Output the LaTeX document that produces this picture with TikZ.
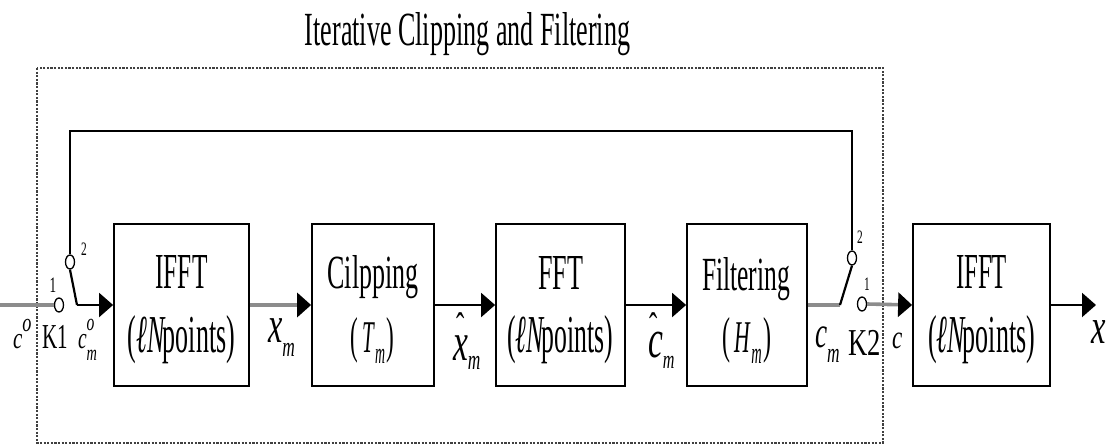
\documentclass[tikz,border=0pt]{standalone}
\usepackage{fontspec}
\setmainfont{Liberation Serif}[ItalicFont={Liberation Serif Italic}]
\usepackage{graphicx}
\usetikzlibrary{arrows.meta,shapes.geometric}
\newcommand\fsz[1]{\fontsize{#1}{#1}\selectfont}
\tikzset{
  blk/.style={draw, line width=1.8pt, minimum width=#1, minimum height=162pt, inner sep=0pt},
  txt/.style={anchor=base, inner sep=0pt, outer sep=0pt},
  lab/.style={anchor=base west, inner sep=0pt, outer sep=0pt},
  num/.style={anchor=center, inner sep=0pt, outer sep=0pt},
  sw/.style={draw, ellipse, line width=1.3pt, minimum width=9pt, minimum height=14pt, inner sep=0pt, fill=white},
  bline/.style={line width=2.2pt, black},
  gline/.style={line width=3.6pt, black!45},
  barrow/.style={bline, -{Triangle[length=14pt,width=24pt]}},
  garrow/.style={gline, -{Triangle[length=14pt,width=24pt,color=black]}},
  frame/.style={line width=1.9pt, black!75, dash pattern=on 2.2pt off 1.4pt}
}
\begin{document}
\begin{tikzpicture}[x=1pt,y=-1pt]
\useasboundingbox (0,0) rectangle (1107,447);
% dashed frame
\draw[frame] (37,68) rectangle (883,443);
\node[txt] (title) at (467.5,45) {\resizebox{325pt}{33pt}{Iterative Clipping and Filtering}};
% blocks
\node[blk=135pt] (b1) at (181.5,305) {};
\node[blk=122pt] (b2) at (373,305) {};
\node[blk=129pt] (b3) at (560.5,305) {};
\node[blk=120pt] (b4) at (747,305) {};
\node[blk=137pt] (b5) at (981.5,305) {};
% block texts
\node[txt] (t1a) at (181.5,288) {\resizebox{52pt}{33pt}{IFFT}};
\node[txt] (t1b) at (181.5,352) {\resizebox{107pt}{37pt}{(\textit{ℓN}\kern-0.12em points)}};
\node[txt] (t2a) at (373,288) {\resizebox{91pt}{33pt}{Cilpping}};
\node[txt] (t2b) at (372,352) {\resizebox{44pt}{35pt}{(\hspace{2pt}\textit{\fsz{9}T}\raisebox{-2.3pt}{\fsz{6}\textit{m}}\hspace{0.5pt})}};
\node[txt] (t3a) at (560.5,289) {\resizebox{45pt}{33pt}{FFT}};
\node[txt] (t3b) at (560,352) {\resizebox{106pt}{37pt}{(\textit{ℓN}\kern-0.12em points)}};
\node[txt] (t4a) at (746,290) {\resizebox{88pt}{33pt}{Filtering}};
\node[txt] (t4b) at (746.5,352) {\resizebox{49pt}{35pt}{(\hspace{2pt}\textit{\fsz{9}H}\raisebox{-2.3pt}{\fsz{6}\textit{m}}\hspace{0.5pt})}};
\node[txt] (t5a) at (981.5,288) {\resizebox{51pt}{33pt}{IFFT}};
\node[txt] (t5b) at (981.5,352) {\resizebox{107pt}{37pt}{(\textit{ℓN}\kern-0.12em points)}};
% switches
\node[sw] (k1a) at (59,305) {};
\node[sw] (k1b) at (70,262) {};
\node[sw] (k2a) at (862,304) {};
\node[sw] (k2b) at (852,258) {};
\coordinate (in) at (0,305);
\coordinate (j1) at (77,305);
\coordinate (f1) at (70,131);
\coordinate (j2) at (840,305);
\coordinate (out) at (1096,305);
% connectors
\draw[gline] (in) -- (k1a.west);
\draw[bline] (k1b.south) -- (j1);
\draw[barrow] (j1) -- (b1.west);
\draw[bline] (k1b.north) -- (f1) -| (k2b.north);
\draw[garrow] (b1.east) -- (b2.west);
\draw[barrow] (b2.east) -- (b3.west);
\draw[barrow] (b3.east) -- (b4.west);
\draw[gline] (b4.east) -- (j2);
\draw[bline] (j2) -- (k2b.south);
\draw[garrow] (k2a.east) -- (b5.west);
\draw[barrow] (b5.east) -- (out);
% switch numbers
\node[num] (n1a) at (53,285) {\scalebox{0.6}[1]{\fsz{22}1}};
\node[num] (n1b) at (84,249) {\scalebox{0.6}[1]{\fsz{19}2}};
\node[num] (n2b) at (860,237) {\scalebox{0.6}[1]{\fsz{19}2}};
\node[num] (n2a) at (867,284) {\scalebox{0.6}[1]{\fsz{19}1}};
% signal labels
\node[lab] (lco) at (13,348) {\scalebox{0.7}[1]{\fsz{30}\textit{c}\raisebox{17pt}{\fsz{26}\textit{o}}}};
\node[lab] (lk1) at (42,348) {\scalebox{0.6}[1]{\fsz{35}K1}};
\node[lab] (lcmo) at (78,348) {\scalebox{0.65}[1]{\fsz{30}\textit{c}\rlap{\raisebox{18pt}{\fsz{24}\textit{o}}}\raisebox{-12pt}{\fsz{22}\textit{m}}}};
\node[lab] (lxm) at (268,342) {\scalebox{0.62}[1]{\fsz{52}\textit{x}\raisebox{-14pt}{\fsz{28}\textit{m}}}};
\node[lab] (lhxm) at (453,360) {\scalebox{0.62}[1]{\fsz{54}\rlap{\kern5pt\raisebox{20pt}{\fsz{40}ˆ}}\textit{x}\raisebox{-9pt}{\fsz{28}\textit{m}}}};
\node[lab] (lhcm) at (648,357) {\scalebox{0.62}[1]{\fsz{54}\rlap{\kern3pt\raisebox{17pt}{\fsz{40}ˆ}}\textit{c}\raisebox{-11pt}{\fsz{26}\textit{m}}}};
\node[lab] (lcm) at (815,347) {\scalebox{0.62}[1]{\fsz{44}\textit{c}\raisebox{-15pt}{\fsz{28}\textit{m}}}};
\node[lab] (lk2) at (848,355) {\scalebox{0.7}[1]{\fsz{38}K2}};
\node[lab] (lc) at (892,348) {\scalebox{0.7}[1]{\fsz{33}\textit{c}}};
\node[lab] (lx) at (1091,343) {\scalebox{0.65}[1]{\fsz{50}\textit{x}}};
\end{tikzpicture}
\end{document}
